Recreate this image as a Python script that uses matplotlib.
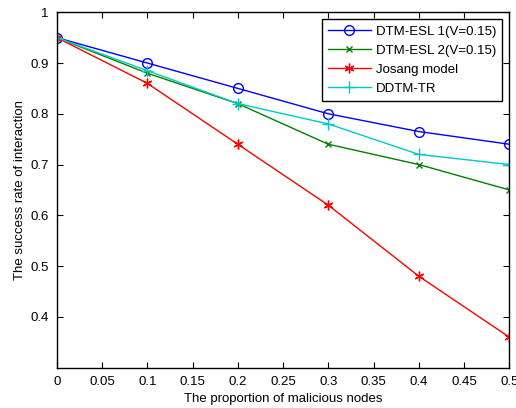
import matplotlib
matplotlib.use('Agg')
import matplotlib.pyplot as plt

plt.rcParams['font.family'] = ['Liberation Sans', 'DejaVu Sans']

x = [0, 0.1, 0.2, 0.3, 0.4, 0.5]
esl1 = [0.95, 0.90, 0.85, 0.80, 0.765, 0.74]
esl2 = [0.95, 0.88, 0.82, 0.74, 0.70, 0.65]
josang = [0.95, 0.86, 0.74, 0.62, 0.48, 0.36]
ddtm = [0.95, 0.885, 0.82, 0.78, 0.72, 0.70]

xticks = [0, 0.05, 0.1, 0.15, 0.2, 0.25, 0.3, 0.35, 0.4, 0.45, 0.5]
yticks = [0.4, 0.5, 0.6, 0.7, 0.8, 0.9, 1]

fig = plt.figure(figsize=(5.16, 4.08), dpi=100)
ax = fig.add_axes([0.11, 0.099, 0.877, 0.871])

ax.plot(x, esl1, color='blue', marker='o', markersize=7, mfc='none', lw=1, label='DTM-ESL 1(V=0.15)')
ax.plot(x, esl2, color='green', marker='x', markersize=4, lw=1, label='DTM-ESL 2(V=0.15)')
ax.plot(x, josang, color='red', marker=(6, 2, 0), markersize=7, lw=1, label='Josang model')
ax.plot(x, ddtm, color='#00c8c8', marker='+', markersize=9, lw=1, label='DDTM-TR')

ax.set_xlim(0, 0.5)
ax.set_ylim(0.3, 1)
ax.set_xticks(xticks)
ax.set_xticklabels([('%g' % t) for t in xticks])
ax.set_yticks(yticks)
ax.set_yticklabels([('%g' % t) for t in yticks])
ax.tick_params(direction='in', top=True, right=True, labelsize=9.5, length=4, pad=6)
for s in ax.spines.values():
    s.set_linewidth(1)

ax.set_xlabel('The proportion of malicious nodes', fontsize=9.5, labelpad=4)
ax.set_ylabel('The success rate of interaction', fontsize=9.5, labelpad=3)

leg = ax.legend(loc='upper right', fontsize=9.5, fancybox=False, framealpha=1,
                edgecolor='black', borderaxespad=0.55, handlelength=3.3,
                labelspacing=0.52, borderpad=0.45, handletextpad=0.35)
leg.get_frame().set_linewidth(1)

fig.savefig('out.png', dpi=100)
